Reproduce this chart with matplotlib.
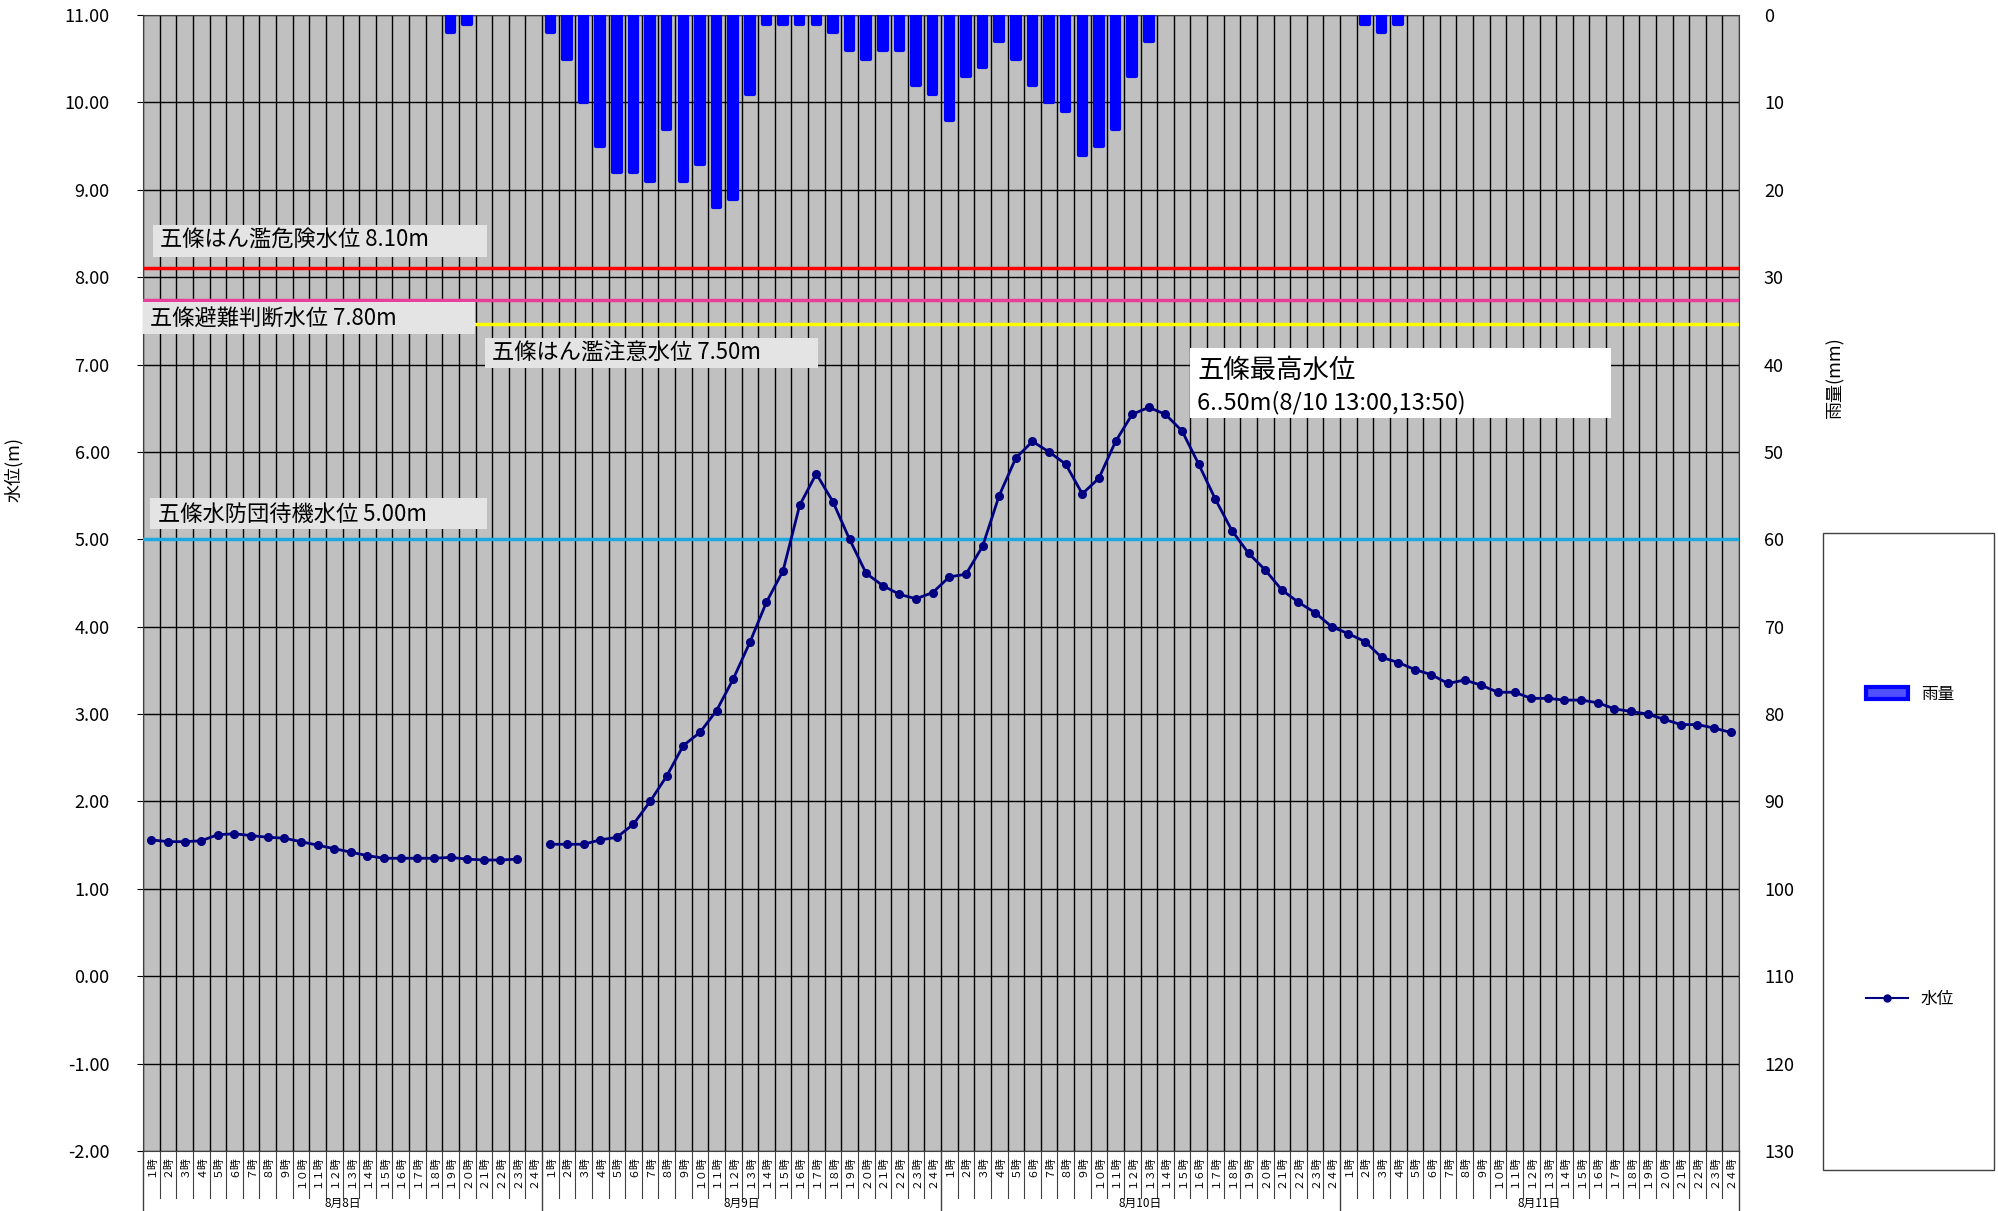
import numpy as np
import matplotlib
matplotlib.use('Agg')
import matplotlib.pyplot as plt
from matplotlib.patches import Rectangle
from matplotlib.lines import Line2D

plt.rcParams['font.family'] = ['Noto Sans CJK JP', 'DejaVu Sans']

# --- data ---
days = ['8月8日', '8月9日', '8月10日', '8月11日']
fw = str.maketrans('0123456789', '０１２３４５６７８９')
hours = [f'{h}時'.translate(fw) for h in range(1, 25)]

# water level (m), hourly 8/8 1時 .. 8/11 24時, nan = missing
water_level = [
    1.56, 1.54, 1.54, 1.55, 1.62, 1.63, 1.61, 1.59, 1.58, 1.54, 1.50, 1.46,
    1.42, 1.38, 1.35, 1.35, 1.35, 1.35, 1.36, 1.34, 1.33, 1.33, 1.34, np.nan,
    1.51, 1.51, 1.51, 1.56, 1.59, 1.74, 2.00, 2.29, 2.64, 2.79, 3.04, 3.40,
    3.82, 4.28, 4.64, 5.39, 5.75, 5.43, 5.00, 4.61, 4.47, 4.37, 4.32, 4.39,
    4.57, 4.60, 4.92, 5.50, 5.93, 6.12, 6.00, 5.86, 5.52, 5.70, 6.12, 6.43,
    6.51, 6.43, 6.24, 5.86, 5.46, 5.10, 4.84, 4.65, 4.42, 4.28, 4.16, 4.00,
    3.92, 3.83, 3.65, 3.59, 3.51, 3.45, 3.35, 3.39, 3.33, 3.25, 3.25, 3.18,
    3.18, 3.16, 3.16, 3.13, 3.06, 3.03, 3.00, 2.94, 2.88, 2.88, 2.84, 2.79,
]

# hourly rainfall (mm)
rainfall = [
    0, 0, 0, 0, 0, 0, 0, 0, 0, 0, 0, 0,
    0, 0, 0, 0, 0, 0, 2, 1, 0, 0, 0, 0,
    2, 5, 10, 15, 18, 18, 19, 13, 19, 17, 22, 21,
    9, 1, 1, 1, 1, 2, 4, 5, 4, 4, 8, 9,
    12, 7, 6, 3, 5, 8, 10, 11, 16, 15, 13, 7,
    3, 0, 0, 0, 0, 0, 0, 0, 0, 0, 0, 0,
    0, 1, 2, 1, 0, 0, 0, 0, 0, 0, 0, 0,
    0, 0, 0, 0, 0, 0, 0, 0, 0, 0, 0, 0,
]

# reference levels: (value, colour, label)
levels = [
    (8.10, '#ff0000', '五條はん濫危険水位 8.10m'),
    (7.74, '#e8409a', '五條避難判断水位 7.80m'),
    (7.46, '#ffff00', '五條はん濫注意水位 7.50m'),
    (5.00, '#1ea8e0', '五條水防団待機水位 5.00m'),
]
peak_title = '五條最高水位'
peak_text = '6..50m(8/10 13:00,13:50)'

n = len(water_level)
x = np.arange(n) + 0.5

fig = plt.figure(figsize=(19.98, 12.11), dpi=100)
W, H = 1998, 1211
ax = fig.add_axes([143 / W, 1 - 1151 / H, 1596 / W, 1136 / H])
ax.set_facecolor('#c0c0c0')
ax.set_xlim(0, n)
ax.set_ylim(-2, 11)

# grid
ax.set_yticks(np.arange(-2, 12, 1))
ax.set_yticklabels([f'{v:.2f}' for v in np.arange(-2, 12, 1)], fontsize=13)
ax.set_xticks(np.arange(0, n + 1), minor=True)
ax.set_xticks(x)
ax.set_xticklabels(hours * len(days), rotation=90, fontsize=7.8, va='top')
ax.tick_params(axis='x', which='both', length=0, pad=3)
ax.tick_params(axis='y', length=4, pad=20)
ax.grid(True, axis='y', which='major', color='black', lw=1)
ax.grid(True, axis='x', which='minor', color='black', lw=1)
ax.set_axisbelow(True)
for s in ax.spines.values():
    s.set_color('#404040')

# reference level lines
for val, col, lab in levels:
    ax.axhline(val, color=col, lw=2.5, zorder=3)

# label boxes
boxes = [
    (0.60, 8.229, 20.09, 0.366, 1.0, 8.42),
    (0.00, 7.348, 19.96, 0.366, 0.4, 7.53),
    (20.56, 6.960, 20.03, 0.344, 21.0, 7.13),
    (0.42, 5.118, 20.27, 0.352, 0.9, 5.29),
]
for (bx, by, bw, bh, tx, ty), (val, col, lab) in zip(boxes, levels):
    ax.add_patch(Rectangle((bx, by), bw, bh, facecolor='#e4e4e4',
                           edgecolor='none', zorder=4))
    ax.text(tx, ty, lab, fontsize=16, va='center', ha='left', zorder=5)

ax.add_patch(Rectangle((63.0, 6.39), 25.3, 0.80, facecolor='white',
                       edgecolor='none', zorder=4))
ax.text(63.4, 6.93, peak_title, fontsize=19, va='center', ha='left', zorder=5)
ax.text(63.4, 6.56, peak_text, fontsize=17, va='center', ha='left', zorder=5)

# water level line
ax.plot(x, water_level, color='#000080', lw=2, marker='o', markersize=5.5,
        zorder=6)

# rainfall on inverted right axis
ax2 = ax.twinx()
ax2.set_ylim(130, 0)
ax2.set_yticks(np.arange(0, 140, 10))
ax2.set_yticklabels([str(v) for v in range(0, 140, 10)], fontsize=13)
ax2.tick_params(axis='y', length=0, pad=18)
bars = ax2.bar(x, rainfall, width=0.45, color='#0000ff', edgecolor='#0000ff',
               lw=3)
for b, r in zip(bars, rainfall):
    b.set_joinstyle('round')
    b.set_visible(r > 0)
for s in ax2.spines.values():
    s.set_visible(False)

ax.set_ylabel('水位(m)', fontsize=13)
ax.yaxis.set_label_coords(-0.075, 0.6)
ax2.set_ylabel('雨量(mm)', fontsize=13)
ax2.yaxis.set_label_coords(1.055, 0.68)

# category separators and day labels under the axis
xt = ax.get_xaxis_transform()
for i in range(n + 1):
    if i % 24 == 0:
        ax.plot([i, i], [0, -0.055], transform=xt, color='#404040', lw=1,
                clip_on=False)
    else:
        ax.plot([i, i], [0, -0.041], transform=xt, color='#404040', lw=0.8,
                clip_on=False)
for d, name in enumerate(days):
    ax.text(d * 24 + 12, -0.046, name, transform=xt, fontsize=8.5,
            ha='center', va='center')

# legend
fig.patches.append(Rectangle((1823 / W, 1 - 1170 / H), 171 / W, 637 / H,
                             transform=fig.transFigure, fill=False,
                             edgecolor='#404040', lw=1))
handles = [
    Rectangle((0, 0), 1, 1, facecolor='#5050ff', edgecolor='#0000ff', lw=3),
    Line2D([], [], color='#000080', marker='o', markersize=5, lw=1.5),
]
fig.legend(handles, ['雨量', '水位'], loc='center',
           bbox_to_anchor=(1910 / W, 1 - 847 / H), frameon=False,
           fontsize=12, labelspacing=17.3, handlelength=2.5)

fig.savefig('out.png', dpi=100)
